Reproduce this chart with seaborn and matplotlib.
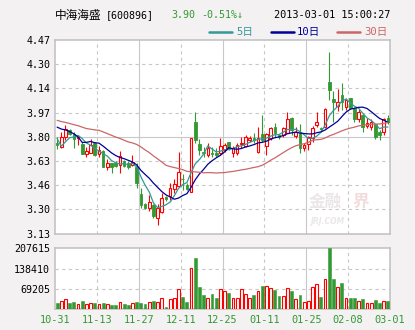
import numpy as np
import pandas as pd
import matplotlib
matplotlib.use("Agg")
import matplotlib.pyplot as plt
from matplotlib.lines import Line2D
import seaborn as sns

# ---------------- data ----------------
stock_name = "中海海盛"
stock_code = "[600896]"
last_price = "3.90"
change_text = "-0.51%↓"
timestamp = "2013-03-01 15:00:27"

date_labels = ["10-31", "11-13", "11-27", "12-11", "12-25",
               "01-11", "01-25", "02-08", "03-01"]
price_labels = ["3.13", "3.30", "3.46", "3.63", "3.80",
                "3.97", "4.14", "4.30", "4.47"]
volume_ticks = [69205, 138410, 207615]
ma_windows = [5, 10, 30]
ma_labels = ["5日", "10日", "30日"]

open_ = [3.76, 3.727, 3.796, 3.85, 3.82, 3.79, 3.75, 3.678, 3.69, 3.759,
         3.681, 3.704, 3.589, 3.616, 3.616, 3.605, 3.63, 3.616, 3.605, 3.593,
         3.404, 3.335, 3.305, 3.328, 3.235, 3.282, 3.381, 3.39, 3.436, 3.459,
         3.51, 3.466, 3.42, 3.905, 3.75, 3.697, 3.674, 3.69, 3.69, 3.685,
         3.709, 3.762, 3.686, 3.69, 3.75, 3.736, 3.778, 3.79, 3.697, 3.817,
         3.736, 3.789, 3.866, 3.813, 3.81, 3.829, 3.928, 3.806, 3.824, 3.72,
         3.75, 3.789, 3.882, 3.859, 3.866, 4.182, 4.06, 4.01, 4.089, 4.004,
         4.066, 3.997, 3.921, 3.951, 3.875, 3.87, 3.886, 3.836, 3.836, 3.93]
high = [3.80, 3.836, 3.88, 3.855, 3.83, 3.806, 3.766, 3.727, 3.782, 3.762,
        3.736, 3.706, 3.644, 3.62, 3.634, 3.699, 3.64, 3.63, 3.674, 3.62,
        3.443, 3.345, 3.397, 3.335, 3.335, 3.408, 3.39, 3.478, 3.505, 3.697,
        3.543, 3.478, 3.79, 3.974, 3.782, 3.727, 3.755, 3.732, 3.72, 3.79,
        3.755, 3.766, 3.736, 3.755, 3.80, 3.81, 3.805, 3.824, 3.866, 3.951,
        3.829, 3.866, 3.893, 3.82, 3.866, 3.974, 3.935, 3.866, 3.889, 3.759,
        3.805, 3.875, 3.974, 3.87, 3.997, 4.389, 4.12, 4.13, 4.17, 4.066,
        4.07, 4.009, 3.99, 3.96, 3.928, 3.92, 3.89, 3.85, 3.93, 3.95]
low = [3.716, 3.72, 3.78, 3.81, 3.72, 3.743, 3.68, 3.658, 3.69, 3.667,
       3.662, 3.589, 3.57, 3.55, 3.59, 3.552, 3.589, 3.58, 3.598, 3.443,
       3.305, 3.30, 3.289, 3.236, 3.19, 3.27, 3.355, 3.363, 3.413, 3.45,
       3.432, 3.43, 3.42, 3.755, 3.674, 3.658, 3.662, 3.662, 3.662, 3.674,
       3.697, 3.71, 3.658, 3.674, 3.72, 3.732, 3.766, 3.755, 3.686, 3.766,
       3.674, 3.778, 3.80, 3.783, 3.80, 3.824, 3.813, 3.79, 3.69, 3.704,
       3.709, 3.766, 3.866, 3.84, 3.859, 4.055, 3.905, 3.98, 3.985, 3.985,
       3.99, 3.905, 3.905, 3.836, 3.859, 3.85, 3.787, 3.778, 3.812, 3.89]
close = [3.74, 3.796, 3.852, 3.82, 3.783, 3.80, 3.681, 3.703, 3.743, 3.674,
         3.709, 3.589, 3.616, 3.589, 3.598, 3.667, 3.598, 3.589, 3.628, 3.478,
         3.33, 3.307, 3.35, 3.252, 3.305, 3.374, 3.367, 3.443, 3.473, 3.559,
         3.505, 3.436, 3.789, 3.778, 3.708, 3.69, 3.72, 3.683, 3.674, 3.736,
         3.743, 3.72, 3.72, 3.743, 3.76, 3.796, 3.79, 3.778, 3.789, 3.778,
         3.82, 3.859, 3.824, 3.796, 3.859, 3.921, 3.847, 3.836, 3.72, 3.743,
         3.796, 3.859, 3.905, 3.852, 3.99, 4.124, 4.04, 4.043, 4.043, 4.055,
         3.997, 3.921, 3.974, 3.866, 3.898, 3.905, 3.80, 3.813, 3.92, 3.90]
volume = [20000, 26000, 33000, 20000, 24000, 17000, 27000, 17000, 19000, 20000,
          17000, 20000, 16000, 13500, 13500, 22500, 17000, 13500, 19000, 24000,
          20000, 17000, 22500, 27000, 22500, 36000, 7000, 33000, 36000, 69000,
          40000, 24000, 141000, 176000, 74000, 47000, 36000, 51000, 37000, 70000,
          63000, 54000, 39000, 39000, 70000, 53000, 36000, 47000, 60000, 78000,
          80000, 73000, 64000, 44000, 46000, 73000, 61000, 33000, 47000, 22500,
          26000, 76000, 87000, 40000, 103000, 207615, 101000, 76000, 88000, 39000,
          37000, 37000, 29000, 34000, 19000, 19000, 30000, 20000, 29000, 27000]
# closes of the sessions before the window, needed to seed the moving averages
lead_in_close = [4.05, 4.03, 4.04, 4.03, 4.01, 3.99, 3.99, 3.88, 3.82, 3.79,
                 3.93, 3.96, 3.95, 3.95, 3.96, 3.97, 3.95, 3.82, 3.80, 3.83,
                 3.93, 3.91, 3.94, 3.93, 4.02, 4.06, 3.70, 3.68, 3.76]

# ---------------- style ----------------
BG = "#f3f1f2"
RED = "#ff0000"
GREEN = "#339933"
MA_COLORS = ["#339999", "#000099", "#cc6666"]
GRID = "#c8c8c8"
SPINE = "#c0c0c0"
DASH = (0, (3, 3))

sns.set_theme(style="white")
plt.rcParams["font.family"] = ["DejaVu Sans Mono", "Noto Sans CJK SC"]

W, H = 415, 330
fig = plt.figure(figsize=(W / 100, H / 100), dpi=100, facecolor=BG)


def box(x0, y0, x1, y1):
    return [x0 / W, 1 - y1 / H, (x1 - x0) / W, (y1 - y0) / H]


ax = fig.add_axes(box(55, 40, 390, 233.6))
axv = fig.add_axes(box(55, 248.3, 390, 309))

n = len(close)
x = np.arange(n) + 0.5
o, h, l, c = map(np.asarray, (open_, high, low, close))
v = np.asarray(volume, dtype=float)
up = c >= o
dn = ~up

# moving averages of closing price
all_close = pd.Series(lead_in_close + close)
ma_frame = pd.DataFrame({"x": x})
for win in ma_windows:
    ma_frame[f"ma{win}"] = all_close.rolling(win).mean().to_numpy()[-n:]

# grid
ymin, ymax = 3.13, 4.47
price_pos = np.linspace(ymin, ymax, len(price_labels))
for k in range(1, 8):
    ls = "-" if k % 2 == 0 else DASH
    for a in (ax, axv):
        a.axvline(k * 10, color=GRID, lw=0.8, ls=ls, zorder=0)
for i, p in enumerate(price_pos[1:-1], start=1):
    ax.axhline(p, color=GRID, lw=0.8, ls="-" if price_labels[i] == "3.80" else DASH, zorder=0)
for t in volume_ticks[:-1]:
    axv.axhline(t, color=GRID, lw=0.8, ls=DASH, zorder=0)

# candlesticks
bw = 0.62
ax.vlines(x[up], l[up], h[up], color=RED, lw=0.8, zorder=2)
ax.vlines(x[dn], l[dn], h[dn], color=GREEN, lw=0.8, zorder=2)
ax.bar(x[up], np.maximum(c - o, 0.003)[up], bottom=o[up], width=bw,
       facecolor="white", edgecolor=RED, linewidth=0.8, zorder=3)
ax.bar(x[dn], np.maximum(o - c, 0.003)[dn], bottom=c[dn], width=bw,
       facecolor=GREEN, edgecolor=GREEN, linewidth=0.6, zorder=3)

# moving average lines
for win, col in zip(ma_windows, MA_COLORS):
    sns.lineplot(data=ma_frame, x="x", y=f"ma{win}", color=col, lw=0.9,
                 ax=ax, zorder=4)

# volume bars
axv.bar(x[up], v[up], width=0.66, facecolor="white", edgecolor=RED,
        linewidth=0.8, zorder=3)
axv.bar(x[dn], v[dn], width=0.7, facecolor=GREEN, edgecolor=GREEN,
        linewidth=0.4, zorder=3)

# axes cosmetics
ax.set_xlim(0, n)
axv.set_xlim(0, n)
ax.set_ylim(ymin, ymax)
axv.set_ylim(0, volume_ticks[-1])
ax.set_yticks(price_pos)
ax.set_yticklabels(price_labels)
ax.set_xticks([])
axv.set_yticks(volume_ticks)
axv.set_yticklabels([str(t) for t in volume_ticks])
axv.set_xticks(np.arange(0, n + 1, 10))
axv.set_xticklabels(date_labels)
for a in (ax, axv):
    a.set_facecolor("white")
    a.set_xlabel("")
    a.set_ylabel("")
    a.tick_params(axis="y", length=0, pad=3.5, labelsize=7.2, labelcolor="black")
    for s in a.spines.values():
        s.set_color(SPINE)
        s.set_linewidth(1.1)
axv.tick_params(axis="x", length=0, pad=4.5, labelsize=7.4, labelcolor=GREEN)

# header
fig.text(55 / W, 1 - 15 / H, stock_name, fontsize=8.4, va="center",
         family=["Noto Sans CJK SC"], color="black")
fig.text(106 / W, 1 - 15 / H, stock_code, fontsize=7.2, va="center", color="black")
fig.text(171 / W, 1 - 15 / H, last_price, fontsize=7.2, va="center", color=GREEN)
fig.text(201 / W, 1 - 15 / H, change_text, fontsize=7.2, va="center", color=GREEN,
         family=["DejaVu Sans Mono", "Noto Sans CJK SC"])
fig.text(390 / W, 1 - 15 / H, timestamp, fontsize=7.4, va="center", ha="right",
         color="black")

# legend row
legend_x = [(209, 232, 236), (271, 294, 297), (337, 360, 364)]
for (lx0, lx1, tx), lab, col in zip(legend_x, ma_labels, MA_COLORS):
    fig.add_artist(Line2D([lx0 / W, lx1 / W], [1 - 32 / H] * 2, color=col, lw=1.8))
    fig.text(tx / W, 1 - 32 / H, lab, fontsize=7.6, va="center", color=col,
             family=["DejaVu Sans Mono", "Noto Sans CJK SC"])

# watermark
fig.text(309 / W, 1 - 202 / H, "金融", fontsize=12, fontweight="bold", va="center",
         color="#ebe6e7", family=["Noto Sans CJK SC"], zorder=1)
fig.text(352 / W, 1 - 202 / H, "界", fontsize=12, fontweight="bold", va="center",
         color="#f2dcdc", family=["Noto Sans CJK SC"], zorder=1)
fig.text(310 / W, 1 - 222 / H, "JRJ.COM", fontsize=5.5, fontweight="bold",
         style="italic", va="center", color="#ebe6e7", family=["DejaVu Sans"], zorder=1)

fig.savefig("out.png", dpi=100, facecolor=BG)
